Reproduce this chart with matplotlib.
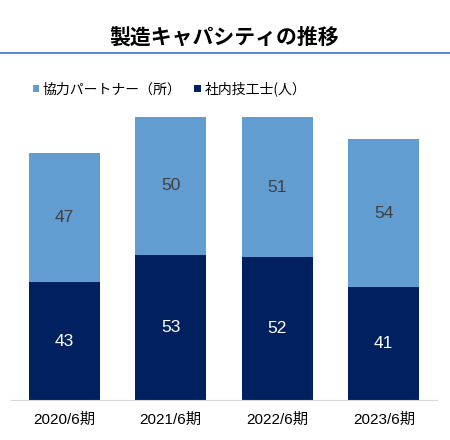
import matplotlib.pyplot as plt
from matplotlib.lines import Line2D

plt.rcParams['font.family'] = ['Liberation Sans', 'Noto Sans CJK JP', 'DejaVu Sans']

periods = ['2020/6期', '2021/6期', '2022/6期', '2023/6期']
employees = [43, 53, 52, 41]
partners = [47, 50, 51, 54]

dark = '#002060'
light = '#629DD1'

fig = plt.figure(figsize=(4.5, 4.4), dpi=100)
ax = fig.add_axes([11 / 450, 40 / 440, 426 / 450, 295 / 440])

x = range(len(periods))
b1 = ax.bar(x, employees, width=0.667, color=dark, label='社内技工士(人）')
b2 = ax.bar(x, partners, width=0.667, bottom=employees, color=light, label='協力パートナー（所）')

ax.bar_label(b1, label_type='center', color='white', fontsize=12.5)
ax.bar_label(b2, label_type='center', color='#404040', fontsize=12.5)

ax.set_xlim(-0.5, 3.5)
ax.set_ylim(0, 107.5)
ax.set_xticks(list(x))
ax.set_xticklabels(periods, fontsize=11)
ax.tick_params(axis='x', length=0, pad=9)
ax.set_yticks([])
for s in ['top', 'left', 'right']:
    ax.spines[s].set_visible(False)
ax.spines['bottom'].set_color('#D9D9D9')

# title and rule under it
fig.text(0.498, 1 - 37 / 440, '製造キャパシティの推移', ha='center', va='center',
         fontsize=15, fontweight='bold', family=['Noto Sans CJK JP'])
fig.add_artist(Line2D([0, 1], [1 - 53 / 440] * 2, color='#4472C4', lw=1.2))

leg = fig.legend(handles=[b2, b1], loc='center left', bbox_to_anchor=(20 / 450, 1 - 89 / 440),
                 ncol=2, frameon=False, handlelength=0.5, handleheight=0.5,
                 handletextpad=0.25, columnspacing=0.9,
                 prop={'family': ['Noto Sans CJK JP'], 'size': 10})

fig.savefig('out.png')
